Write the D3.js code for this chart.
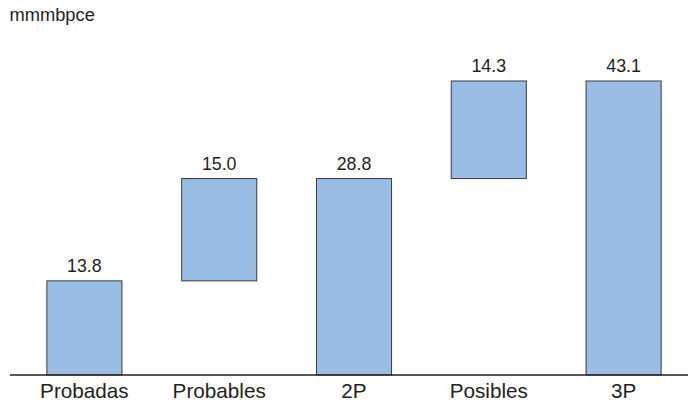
<!DOCTYPE html>
<html><head><meta charset="utf-8">
<script src="https://cdn.jsdelivr.net/npm/d3@7"></script>
<style>body{margin:0;background:#fff}svg{display:block}text{font-family:"Liberation Sans",Arial,sans-serif;fill:#231f20}</style>
</head><body>
<script>
const categories = ["Probadas", "Probables", "2P", "Posibles", "3P"];
const values = [13.8, 15.0, 28.8, 14.3, 43.1];
const bases = [0, 13.8, 0, 28.8, 0];
const unitLabel = "mmmbpce";

const W = 692, H = 404;
const svg = d3.select("body").append("svg").attr("width", W).attr("height", H);

const x = d3.scaleBand().domain(categories).range([17, 691]).paddingInner(0.443).paddingOuter(0.2215);
const y = d3.scaleLinear().domain([0, 43.1]).range([375, 81]);

const data = categories.map((c, i) => ({c, v: values[i], b: bases[i]}));

svg.selectAll("rect.bar").data(data).enter().append("rect")
  .attr("class", "bar")
  .attr("x", d => x(d.c))
  .attr("width", x.bandwidth())
  .attr("y", d => y(d.b + d.v))
  .attr("height", d => y(d.b) - y(d.b + d.v))
  .attr("fill", "#99bde4")
  .attr("stroke", "#3a3a3a")
  .attr("stroke-width", 1);

svg.selectAll("text.val").data(data).enter().append("text")
  .attr("class", "val")
  .attr("x", d => x(d.c) + x.bandwidth() / 2)
  .attr("y", d => y(d.b + d.v) - 9)
  .attr("text-anchor", "middle")
  .attr("font-size", 17.8)
  .text(d => d.v.toFixed(1));

const axis = d3.axisBottom(x).tickSize(0).tickPadding(8);
const g = svg.append("g").attr("transform", "translate(0,375)").call(axis);
g.select(".domain").remove();
g.append("line").attr("x1", 10).attr("x2", 688).attr("y1", 0).attr("y2", 0)
  .attr("stroke", "#231f20").attr("stroke-width", 1.5);
g.selectAll(".tick text").attr("font-size", 20.7).attr("font-family", "Liberation Sans, Arial, sans-serif").attr("fill", "#231f20");

svg.append("text").attr("x", 9.5).attr("y", 21).attr("font-size", 18.3).text(unitLabel);
</script>
</body></html>
